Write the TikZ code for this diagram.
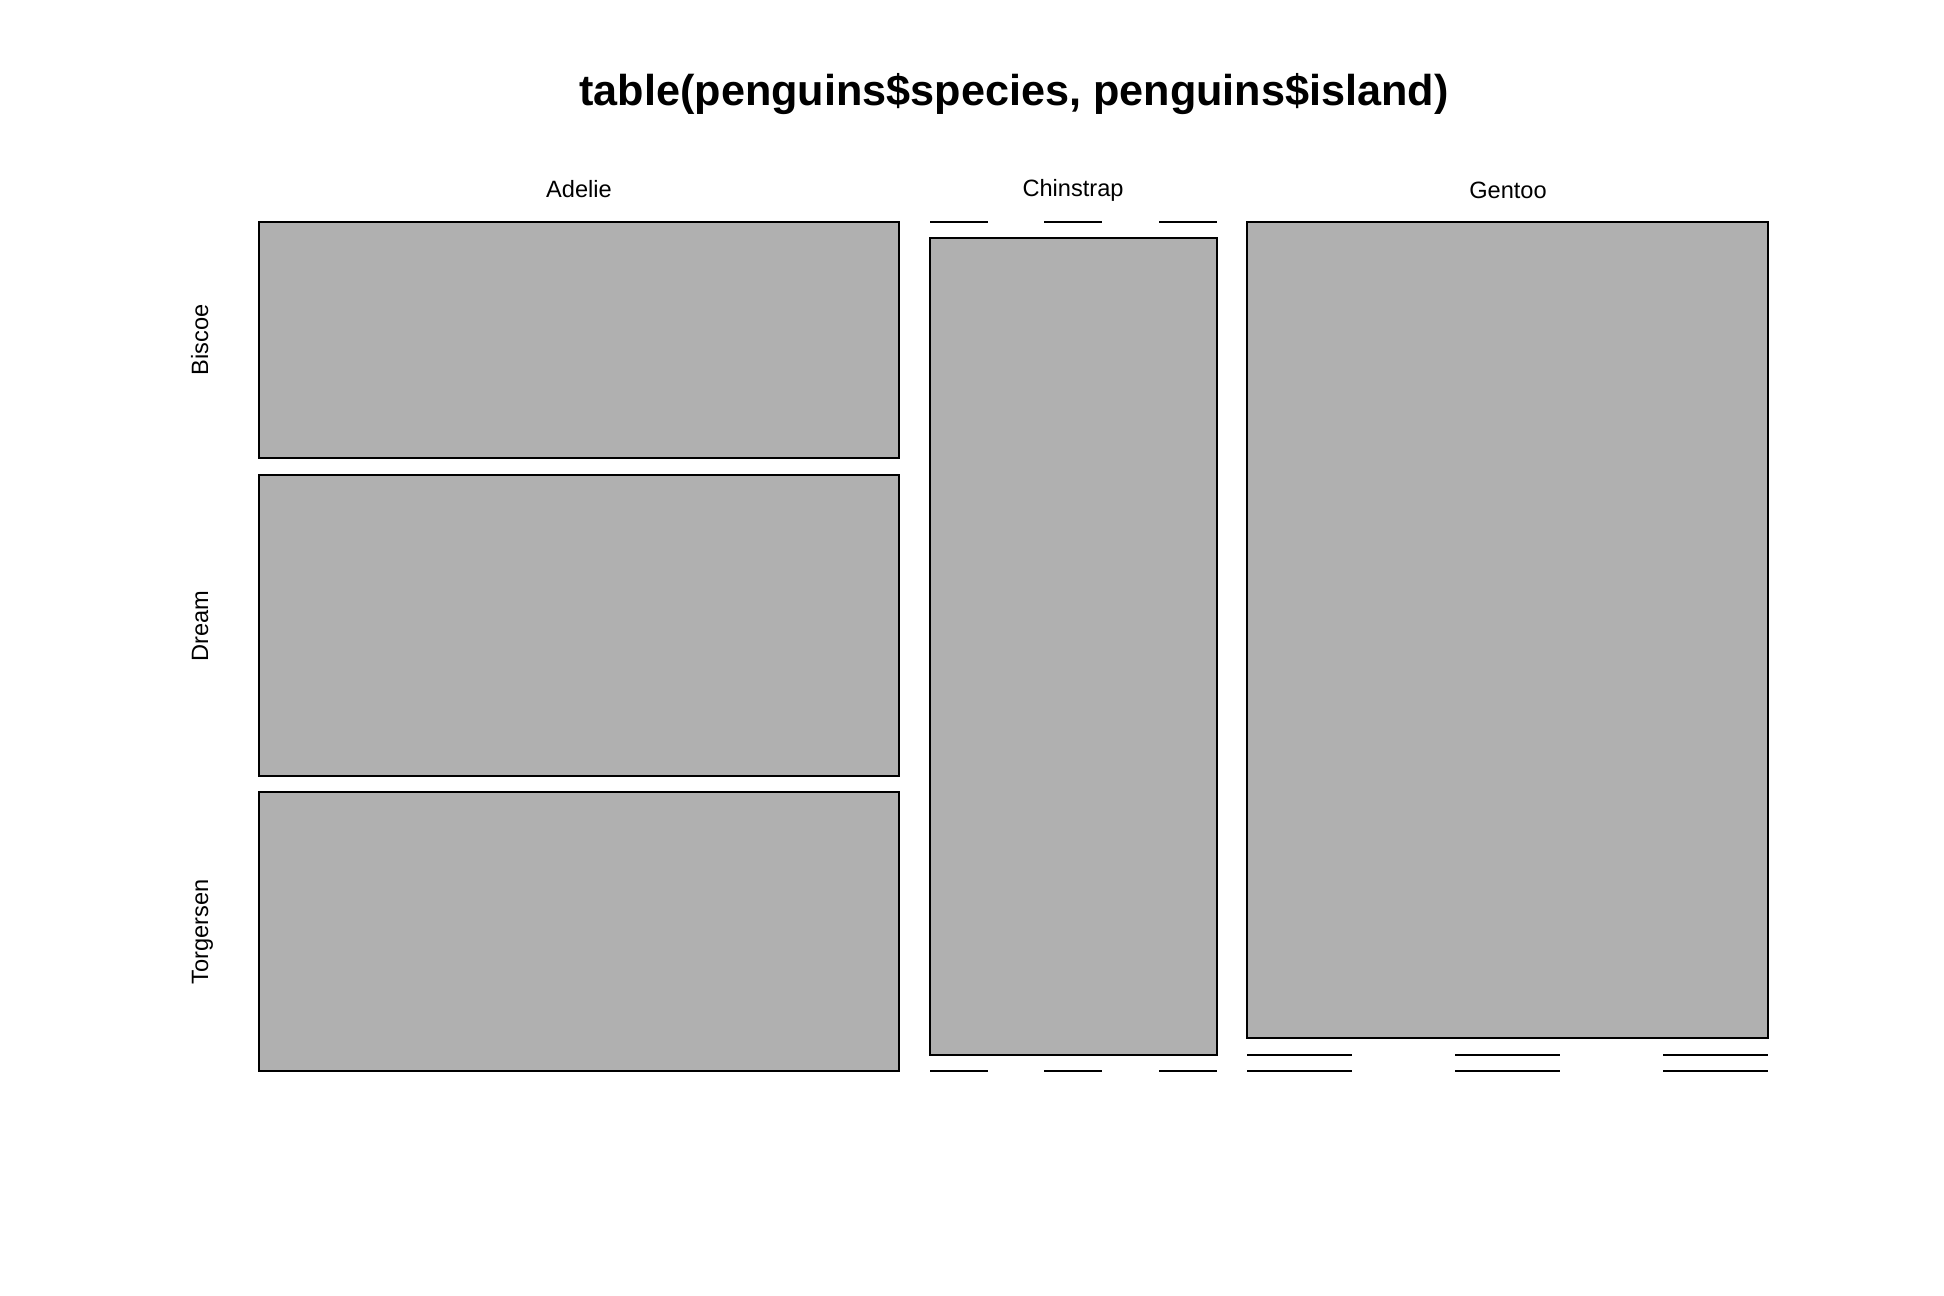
\documentclass[tikz,border=0pt]{standalone}
\usepackage{fontspec}
\setmainfont{Liberation Sans}
\definecolor{cellgray}{RGB}{176,176,176}
\begin{document}
\begin{tikzpicture}[x=0.5pt,y=-0.5pt]
			\tikzset{cell/.style = {draw, fill=cellgray, line width=1pt}}
			\tikzset{zero/.style = {line width=1pt}}
			\tikzset{lab/.style = {font=\fontsize{11.8}{14}\selectfont, inner sep=0pt, anchor=base}}
			\useasboundingbox (0,0) rectangle (1944,1296);
			% Title
			\node[font=\bfseries\fontsize{21.6}{26}\selectfont, inner sep=0pt, anchor=base] (title) at (1014,105) {table(penguins\$species, penguins\$island)};
			% Species labels
			\node[lab] (adelie) at (579,197) {Adelie};
			\node[lab] (chinstrap) at (1073,196) {Chinstrap};
			\node[lab] (gentoo) at (1508,198) {Gentoo};
			% Island labels
			\node[lab, rotate=90] (biscoe) at (208,340) {Biscoe};
			\node[lab, rotate=90] (dream) at (208,626) {Dream};
			\node[lab, rotate=90] (torgersen) at (208,932) {Torgersen};
			% Adelie
			\draw[cell] (259,222) rectangle (899,458);
			\draw[cell] (259,475) rectangle (899,776);
			\draw[cell] (259,792) rectangle (899,1071);
			% Chinstrap
			\draw[cell] (930,238) rectangle (1217,1055);
			\foreach \xa/\xb in {930/988, 1044/1102, 1159/1217} {
				\draw[zero] (\xa,222) -- (\xb,222);
				\draw[zero] (\xa,1071) -- (\xb,1071);
			}
			% Gentoo
			\draw[cell] (1247,222) rectangle (1768,1038);
			\foreach \xa/\xb in {1247/1352, 1455/1560, 1663/1768} {
				\draw[zero] (\xa,1055) -- (\xb,1055);
				\draw[zero] (\xa,1071) -- (\xb,1071);
			}
\end{tikzpicture}
\end{document}
